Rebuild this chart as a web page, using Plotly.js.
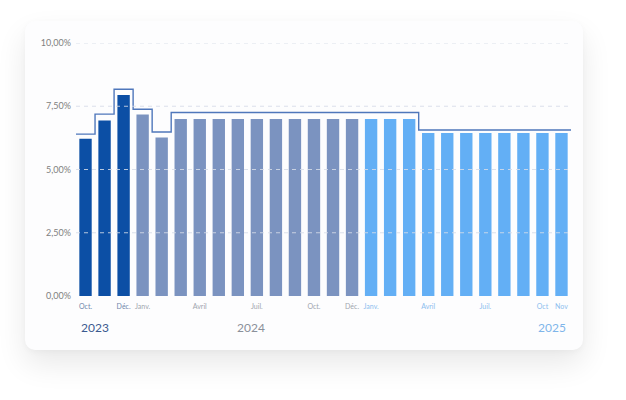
<!DOCTYPE html>
<html>
<head>
<meta charset="utf-8">
<script src="https://cdn.plot.ly/plotly-3.0.1.min.js"></script>
<style>
  html, body { margin:0; padding:0; background:#ffffff; width:626px; height:400px; overflow:hidden; }
  #card { position:absolute; left:25px; top:21px; width:558px; height:329px; border-radius:10px;
          background:#fdfdfe; box-shadow:0 14px 30px rgba(0,0,0,0.09), 0 2px 6px rgba(0,0,0,0.03); }
  #chart { position:absolute; left:0; top:0; width:626px; height:400px; }
</style>
</head>
<body>
<div id="card"></div>
<div id="chart"></div>
<script>
// ---- Data ----
const years = [2023,2023,2023,
  2024,2024,2024,2024,2024,2024,2024,2024,2024,2024,2024,2024,
  2025,2025,2025,2025,2025,2025,2025,2025,2025,2025,2025];
const monthLabels = ['Oct.','','Déc.',
  'Janv.','','','Avril','','','Juil.','','','Oct.','','Déc.',
  'Janv.','','','Avril','','','Juil.','','','Oct','Nov'];
const rates = [6.22,6.94,7.94,
  7.17,6.26,7.00,7.00,7.00,7.00,7.00,7.00,7.00,7.00,7.00,7.00,
  7.00,7.00,7.00,6.44,6.44,6.44,6.44,6.44,6.44,6.44,6.44];
const stepRates = [6.40,7.19,8.17,
  7.38,6.48,7.25,7.25,7.25,7.25,7.25,7.25,7.25,7.25,7.25,7.25,
  7.25,7.25,7.25,6.56,6.56,6.56,6.56,6.56,6.56,6.56,6.56];
const yTickVals = [0,2.5,5,7.5,10];
const yTickText = ['0,00%','2,50%','5,00%','7,50%','10,00%'];
const yearList = [2023,2024,2025];

// ---- Styles ----
const barColor = {2023:'#0c4fa5', 2024:'#7b93c0', 2025:'#63aff5'};
const tickColor = {2023:'#7086ab', 2024:'#a0a5ae', 2025:'#8dbdee'};
const yearColor = {2023:'#3c5a90', 2024:'#8b909a', 2025:'#7fb5ea'};

const idx = rates.map((_, i) => i);

const bars = {
  type:'bar', x: idx, y: rates, width: 0.65,
  marker:{color: years.map(y => barColor[y]), line:{width:0}},
  hoverinfo:'skip', showlegend:false
};

const stepX = idx.map(i => i - 0.5).concat([rates.length - 0.5]);
const stepY = stepRates.concat([stepRates[stepRates.length-1]]);
const step = {
  type:'scatter', mode:'lines', x: stepX, y: stepY,
  line:{shape:'hv', color:'#4f77bb', width:1.4},
  hoverinfo:'skip', showlegend:false
};

const tickText = monthLabels.map((m, i) => m ? '<span style="color:' + tickColor[years[i]] + '">' + m + '</span>' : '');

const shapes = yTickVals.filter(v => v > 0).map(v => ({
  type:'line', xref:'paper', yref:'y', x0:0, x1:1, y0:v, y1:v, layer:'above',
  line:{color:'rgba(214,220,232,0.85)', width:1, dash:'4px,4px'}
}));

const annotations = yearList.map(yr => {
  const ii = idx.filter(i => years[i] === yr);
  const first = ii[0], last = ii[ii.length-1];
  let x, anchor;
  if (yr === yearList[0]) { x = first - 0.32; anchor = 'left'; }
  else if (yr === yearList[yearList.length-1]) { x = last + 0.35; anchor = 'right'; }
  else { x = (first + last) / 2 + 0.2; anchor = 'center'; }
  return { x: x, xref:'x', y: 327, yref:'paper', text: String(yr), showarrow:false,
           xanchor: anchor, yanchor:'middle',
           font:{family:'Lato, "Open Sans", sans-serif', size:12, color: yearColor[yr]} };
});
// convert pixel y for annotations into paper coords
const T = 43, B = 104, H = 400;
annotations.forEach(a => { a.y = (H - B - a.y) / (H - T - B); });

const layout = {
  width:626, height:400,
  paper_bgcolor:'rgba(0,0,0,0)', plot_bgcolor:'rgba(0,0,0,0)',
  margin:{l:76, r:55, t:T, b:B},
  bargap:0.35,
  xaxis:{ range:[-0.5, rates.length - 0.5], tickmode:'array', tickvals: idx, ticktext: tickText,
          showgrid:false, zeroline:false, showline:false, ticks:'', fixedrange:true,
          tickangle:0, ticklabelstandoff:5,
          tickfont:{family:'Lato, "Open Sans", sans-serif', size:7, color:'#a0a5ae'} },
  yaxis:{ range:[0,10], tickmode:'array', tickvals: yTickVals, ticktext: yTickText,
          showgrid:false, zeroline:false, showline:false, ticks:'', fixedrange:true,
          ticklabelstandoff:4,
          tickfont:{family:'Lato, "Open Sans", sans-serif', size:9, color:'#808080'} },
  shapes: shapes,
  annotations: annotations,
  font:{family:'Lato, sans-serif'}
};

Plotly.newPlot('chart', [bars, step], layout, {displayModeBar:false, staticPlot:true});
</script>
</body>
</html>
